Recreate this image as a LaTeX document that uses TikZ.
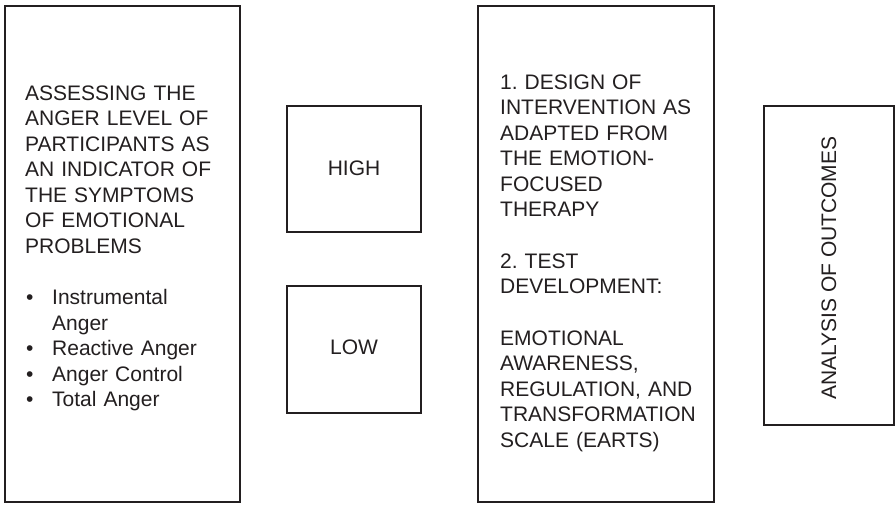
\documentclass[tikz,border=0pt]{standalone}
\usepackage{fontspec}
\setmainfont{Liberation Sans}
\definecolor{ink}{RGB}{35,31,32}
\frenchspacing
\begin{document}
\begin{tikzpicture}[x=1pt,y=-1pt,
  boxline/.style={draw=ink, line width=1.8pt, inner sep=0pt, outer sep=0pt, anchor=north west},
  txt/.style={text=ink, font=\fontsize{21}{25.5}\selectfont\frenchspacing, inner sep=0pt, align=left, anchor=base west, text width=#1},
  lbl/.style={text=ink, font=\fontsize{21}{25.5}\selectfont, inner sep=0pt}]
\useasboundingbox (0,0) rectangle (896,504);
\fill[white] (0,0) rectangle (896,504);
% boxes
\node[boxline, minimum width=235pt, minimum height=496pt] (assess) at (5,6) {};
\node[boxline, minimum width=134pt, minimum height=126pt] (high) at (287,106) {};
\node[boxline, minimum width=134pt, minimum height=127pt] (low) at (287,286) {};
\node[boxline, minimum width=236pt, minimum height=496pt] (design) at (478,6) {};
\node[boxline, minimum width=130pt, minimum height=319pt] (analysis) at (764,106) {};
% texts
\node[txt=210pt] (assesstxt) at (25,100) {ASSESSING THE\\ANGER LEVEL OF\\PARTICIPANTS AS\\AN INDICATOR OF\\THE SYMPTOMS\\OF EMOTIONAL\\PROBLEMS\\[26pt]
\makebox[27pt][l]{\hspace*{1pt}\textbullet}Instrumental\\
\hspace*{27pt}Anger\\
\makebox[27pt][l]{\hspace*{1pt}\textbullet}Reactive Anger\\
\makebox[27pt][l]{\hspace*{1pt}\textbullet}Anger Control\\
\makebox[27pt][l]{\hspace*{1pt}\textbullet}Total Anger};
\node[lbl] (hightxt) at (354,168) {HIGH};
\node[lbl] (lowtxt) at (354,347) {LOW};
\node[txt=210pt] (designtxt) at (500,89) {1. DESIGN OF\\INTERVENTION AS\\ADAPTED FROM\\THE EMOTION-\\FOCUSED\\THERAPY\\[26pt]2. TEST\\DEVELOPMENT:\\[26pt]EMOTIONAL\\AWARENESS,\\REGULATION, AND\\TRANSFORMATION\\SCALE (EARTS)};
\node[lbl, rotate=90] (analysistxt) at (829,268.3) {ANALYSIS OF OUTCOMES};
\end{tikzpicture}
\end{document}
